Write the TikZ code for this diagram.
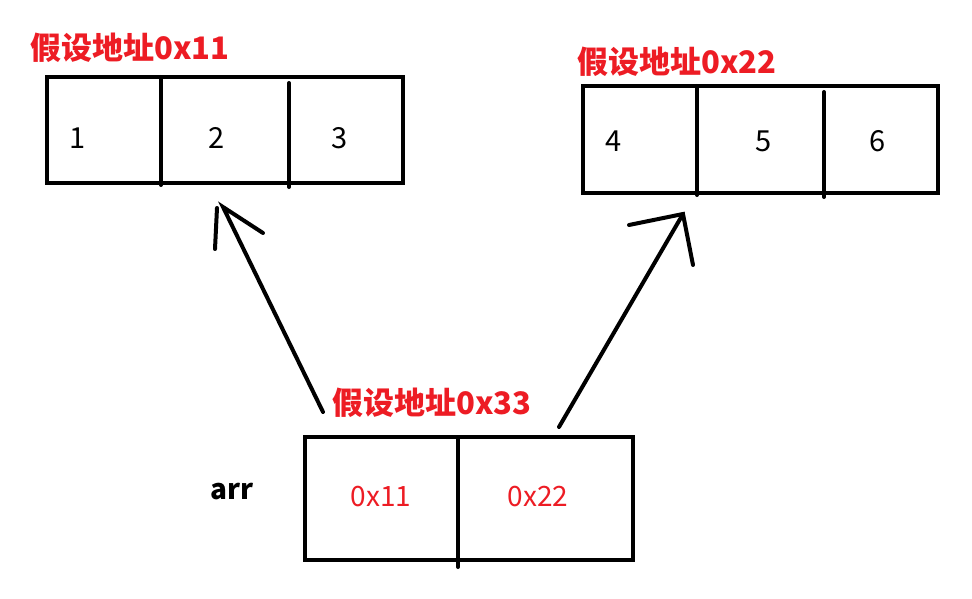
\documentclass[tikz,border=0pt]{standalone}
\usepackage{fontspec}
\setmainfont{Noto Sans CJK SC}
\newfontfamily\cjk{Noto Sans CJK SC}
\definecolor{paintred}{RGB}{237,28,36}
\begin{document}
\begin{tikzpicture}[x=1pt,y=-1pt,
  box/.style={draw=black,line width=4pt,rectangle,inner sep=0pt},
  num/.style={font=\cjk\fontsize{29}{32}\selectfont,text=black,inner sep=0pt},
  addr/.style={font=\cjk\fontsize{28}{32}\selectfont,text=paintred,inner sep=0pt},
  ttl/.style={font=\cjk\bfseries\fontsize{31}{34}\selectfont,text=paintred,inner sep=0pt},
  divider/.style={line width=4pt,line cap=round},
  arrowline/.style={line width=4pt,line cap=round}]
\useasboundingbox[fill=white] (0,0) rectangle (972,599);

% top-left array
\node[box,minimum width=356pt,minimum height=106pt] (boxA) at (225,130) {};
\draw[divider] (161,77) -- (161,185);
\draw[divider] (289,83) -- (289,187);
\node[num] (a1) at (78,138) {1};
\node[num] (a2) at (217,138) {2};
\node[num] (a3) at (340,138) {3};
\node[ttl,anchor=west] (tA) at (30,48) {假设地址0x11};

% top-right array
\node[box,minimum width=355pt,minimum height=107pt] (boxB) at (760.5,139.5) {};
\draw[divider] (697,86) -- (697,195);
\draw[divider] (824,92) -- (824,197);
\node[num] (b1) at (614,141) {4};
\node[num] (b2) at (764,141) {5};
\node[num] (b3) at (878,141) {6};
\node[ttl,anchor=west] (tB) at (577,62) {假设地址0x22};

% bottom array
\node[box,minimum width=328pt,minimum height=123pt] (boxC) at (469,498.5) {};
\draw[divider] (458,437) -- (458,567);
\node[addr] (c1) at (381,497) {0x11};
\node[addr] (c2) at (538,497) {0x22};
\node[ttl,anchor=west] (tC) at (332,403) {假设地址0x33};
\node[font=\cjk\bfseries\fontsize{28}{30}\selectfont,inner sep=0pt] (arr) at (232,492) {arr};

% arrows (hand-drawn heads)
\coordinate (l0) at (323,412);
\coordinate (l1) at (223,207);
\coordinate (lh1) at (263,233);
\coordinate (lh2a) at (217,208);
\coordinate (lh2b) at (215,249);
\draw[arrowline] (l0) -- (l1) -- (lh1);
\draw[arrowline] (lh2a) -- (lh2b);

\coordinate (r0) at (559,427);
\coordinate (r1) at (683,214);
\coordinate (rh1) at (629,225);
\coordinate (rh2) at (693,265);
\draw[arrowline] (r0) -- (r1);
\draw[arrowline] (rh1) -- (r1) -- (rh2);
\end{tikzpicture}
\end{document}
